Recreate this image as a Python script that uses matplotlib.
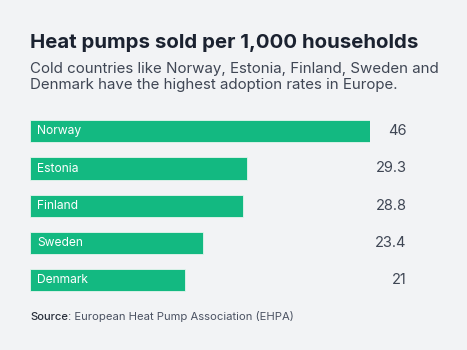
import matplotlib.pyplot as plt
from matplotlib.transforms import blended_transform_factory

# data
countries = ['Norway', 'Estonia', 'Finland', 'Sweden', 'Denmark']
values = [46, 29.3, 28.8, 23.4, 21]
value_labels = ['46', '29.3', '28.8', '23.4', '21']

plt.rcParams['font.family'] = ['Inter', 'DejaVu Sans']

W, H = 467, 350
bg = '#f2f3f5'
green = '#13b981'

fig = plt.figure(figsize=(W / 100, H / 100), dpi=100, facecolor=bg)

# axes placed in pixel terms: left 30px, right 370px, top ~112.7px, bottom ~298.7px
ax = fig.add_axes([30 / W, 1 - 298.7 / H, 340 / W, 186 / H])
ax.set_facecolor(bg)
pos = list(range(len(countries)))
ax.barh(pos, values, height=0.6, color=green, edgecolor='#e6f5ee', linewidth=0.6)
ax.set_xlim(0, max(values))
ax.set_ylim(len(countries) - 0.5, -0.5)
ax.axis('off')

# country names inside the bars, 7px from the left edge
name_trans = blended_transform_factory(fig.transFigure, ax.transData)
for i, c in enumerate(countries):
    ax.text(37.5 / W, i, c, transform=name_trans, color='white', fontsize=8.7,
            va='center', ha='left')

for i, lab in enumerate(value_labels):
    ax.text(406.5 / W, i, lab, transform=name_trans, color='#3f4654', fontsize=10.5,
            va='center', ha='right')

# title / subtitle
fig.text(30 / W, 1 - 47.5 / H, 'Heat pumps sold per 1,000 households',
         fontsize=14.7, fontweight='bold', color='#1b2230', ha='left', va='baseline')
fig.text(30 / W, 1 - 73.5 / H,
         'Cold countries like Norway, Estonia, Finland, Sweden and',
         fontsize=10.85, color='#3f4654', ha='left', va='baseline')
fig.text(30 / W, 1 - 88.5 / H,
         'Denmark have the highest adoption rates in Europe.',
         fontsize=10.85, color='#3f4654', ha='left', va='baseline')

# source
src = fig.text(30 / W, 1 - 320 / H, 'Source', fontsize=8.1, fontweight='medium',
               color='#2a303c', ha='left', va='baseline')
fig.canvas.draw()
bb = src.get_window_extent()
fig.text(bb.x1 / W, 1 - 320 / H, ': European Heat Pump Association (EHPA)',
         fontsize=8.1, color='#4b5262', ha='left', va='baseline')

fig.savefig('out.png', dpi=100, facecolor=bg)
